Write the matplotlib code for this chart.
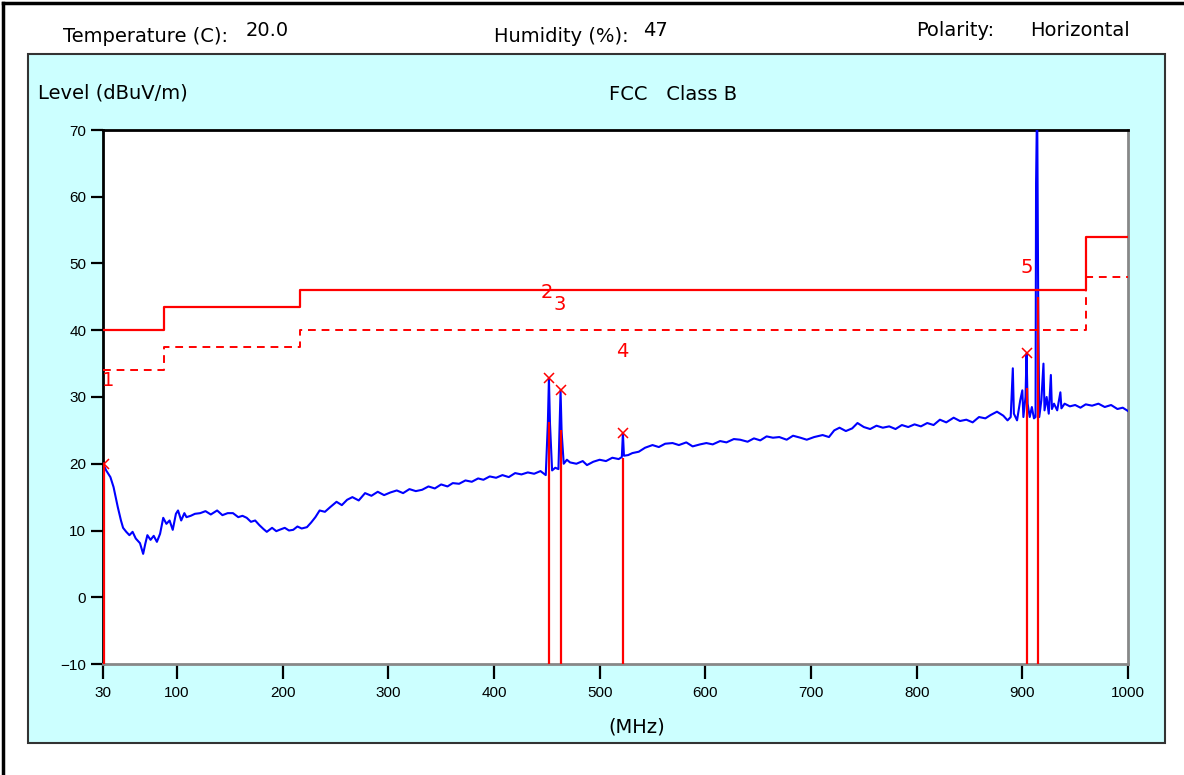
import numpy as np
import matplotlib
matplotlib.use('Agg')
import matplotlib.pyplot as plt
from matplotlib.patches import Rectangle
from matplotlib.lines import Line2D

plt.rcParams['font.family'] = ['Liberation Sans', 'DejaVu Sans']

# measured trace (MHz, dBuV/m)
freq = [30, 33, 37, 40, 44, 47, 49, 52, 55, 58, 61, 65, 68, 70, 72, 75, 78, 81, 84, 87,
        90, 93, 96, 99, 101, 104, 107, 109, 113, 117, 122, 127, 132, 138, 143, 148, 153, 158,
        162, 166, 170, 174, 178, 182, 185, 190, 194, 197, 202, 206, 210, 214, 218, 223, 227,
        231, 235, 240, 245, 251, 256, 261, 266, 272, 278, 284, 290, 296, 302, 308, 314, 320,
        326, 332, 338, 344, 350, 356, 361, 367, 373, 379, 385, 390, 396, 402, 408, 414, 420,
        426, 432, 438, 444, 449, 451, 452, 453, 455, 458, 461, 462, 463, 464, 466, 469, 472,
        478, 484, 488, 494, 500, 506, 512, 518, 521, 522, 523, 527, 531, 537, 543, 550, 556,
        562, 569, 575, 582, 588, 595, 601, 607, 614, 620, 627, 633, 640, 646, 652, 658, 664,
        670, 677, 683, 690, 696, 703, 711, 717, 722, 727, 733, 739, 744, 750, 756, 762, 768,
        774, 780, 786, 792, 798, 804, 810, 816, 822, 828, 835, 841, 847, 853, 859, 865, 870,
        876, 882, 886, 889, 891, 892, 895, 898, 900, 901, 903, 904, 905, 907, 909, 911, 912.5,
        913, 914, 915, 916, 918, 920, 921, 923, 925, 927, 928, 930, 933, 936, 937, 940, 945, 950,
        955, 960, 966, 972, 978, 984, 990, 995, 1000]
level = [20.0, 19.0, 18.0, 16.5, 13.5, 11.5, 10.4, 9.8, 9.3, 9.8, 8.8, 8.1, 6.5, 8.0, 9.3, 8.6, 9.2, 8.3, 9.5, 11.9,
         11.0, 11.5, 10.1, 12.5, 13.0, 11.5, 12.6, 12.0, 12.2, 12.5, 12.6, 12.9, 12.4, 13.0, 12.3, 12.6, 12.6, 12.0,
         12.2, 11.9, 11.3, 11.5, 10.8, 10.2, 9.8, 10.4, 9.9, 10.1, 10.4, 10.0, 10.1, 10.6, 10.3, 10.5, 11.2,
         12.0, 13.0, 12.8, 13.5, 14.3, 13.8, 14.6, 15.0, 14.5, 15.6, 15.2, 15.8, 15.3, 15.7, 16.0, 15.6, 16.2,
         15.9, 16.1, 16.6, 16.3, 16.9, 16.6, 17.1, 17.0, 17.5, 17.3, 17.8, 17.6, 18.1, 17.9, 18.3, 18.0, 18.6,
         18.4, 18.7, 18.5, 18.9, 18.3, 26.2, 32.8, 26.0, 19.0, 19.4, 19.2, 25.0, 31.0, 24.8, 20.0, 20.6, 20.2,
         20.0, 20.4, 19.8, 20.3, 20.6, 20.4, 20.9, 20.7, 21.0, 24.6, 21.2, 21.3, 21.6, 21.8, 22.4, 22.8, 22.5,
         23.0, 23.1, 22.8, 23.2, 22.6, 22.9, 23.1, 22.9, 23.4, 23.2, 23.7, 23.6, 23.3, 23.8, 23.5, 24.1, 23.9,
         24.0, 23.6, 24.2, 23.9, 23.6, 24.0, 24.3, 24.0, 25.0, 25.4, 24.9, 25.3, 26.1, 25.5, 25.2, 25.7, 25.4,
         25.6, 25.2, 25.8, 25.5, 25.9, 25.6, 26.1, 25.8, 26.6, 26.2, 26.9, 26.4, 26.6, 26.2, 27.0, 26.8, 27.3,
         27.8, 27.2, 26.5, 27.0, 34.3, 27.5, 26.5, 29.5, 31.0, 27.0, 30.0, 36.5, 29.0, 27.0, 28.5, 26.8, 27.0,
         62.0, 75.0, 45.0, 27.0, 29.5, 35.0, 28.0, 30.0, 27.5, 33.3, 28.2, 29.0, 28.0, 30.7, 28.3, 29.0, 28.6, 28.8,
         28.4, 28.9, 28.7, 29.0, 28.5, 28.8, 28.2, 28.4, 27.9]

# FCC class B limit steps
limit_freq = [30, 88, 216, 960, 1000]
limit_level = [40, 43.5, 46, 54, 54]
margin_level = [34, 37.5, 40, 48, 48]

# quasi-peak readings (red bars) and peak markers (x)
qp_freq = [31, 452, 463, 522, 904, 915]
qp_level = [20.0, 26.3, 25.0, 20.9, 31.3, 45.0]
pk_freq = [31, 452, 463, 522, 904]
pk_level = [20.0, 32.8, 31.0, 24.6, 36.6]
label_text = ['1', '2', '3', '4', '5']
label_freq = [35, 450, 462, 521, 904]
label_level = [32.5, 45.6, 43.8, 36.8, 49.4]

W, H = 1184, 775
fig = plt.figure(figsize=(W / 100, H / 100), dpi=100)
fig.patch.set_facecolor('white')

# outer frame (top and left)
fig.add_artist(Line2D([3 / W, 3 / W], [0, 1 - 3 / H], color='black', lw=2.5))
fig.add_artist(Line2D([3 / W, 1], [1 - 3 / H, 1 - 3 / H], color='black', lw=2.5))

# cyan panel
fig.add_artist(Rectangle((28 / W, 1 - 743 / H), (1165 - 28) / W, (743 - 54) / H,
                         facecolor='#ccffff', edgecolor='#333333', lw=1.5,
                         transform=fig.transFigure, zorder=0))

ax = fig.add_axes([103 / W, 1 - 664 / H, (1128 - 103) / W, (664 - 130) / H])
ax.set_facecolor('white')

ax.plot(freq, level, color='#0000ff', lw=1.5, zorder=3)
ax.step(limit_freq, limit_level, where='post', color='#ff0000', lw=1.6, zorder=4)
ax.step(limit_freq, margin_level, where='post', color='#ff0000', lw=1.4,
        linestyle=(0, (4, 3)), zorder=4)
ax.vlines(qp_freq, -10, qp_level, color='#ff0000', lw=1.6, zorder=4)
ax.plot(pk_freq, pk_level, 'x', color='#ff0000', ms=7, mew=1.1, zorder=5)
for t, fx, ly in zip(label_text, label_freq, label_level):
    ax.text(fx, ly, t, color='#ff0000', fontsize=14, ha='center', va='center',
            family='DejaVu Sans', zorder=5)

ax.set_xlim(30, 1000)
ax.set_ylim(-10, 70)
ax.set_xticks([30, 100, 200, 300, 400, 500, 600, 700, 800, 900, 1000])
ax.set_yticks(np.arange(-10, 71, 10))
ax.tick_params(axis='both', direction='out', width=1.6, color='black', labelsize=11)
ax.tick_params(axis='y', length=9, pad=3)
ax.tick_params(axis='x', length=11, pad=5)
for s in ['top', 'left']:
    ax.spines[s].set_color('black')
    ax.spines[s].set_linewidth(2)
for s in ['bottom', 'right']:
    ax.spines[s].set_color('#888888')
    ax.spines[s].set_linewidth(2)

# header texts
hdr = dict(fontsize=14, va='center', family='DejaVu Sans')
fig.text(63 / W, 1 - 36 / H, 'Temperature (C):', **hdr)
fig.text(246 / W, 1 - 30 / H, '20.0', **hdr)
fig.text(494 / W, 1 - 36 / H, 'Humidity (%):', **hdr)
fig.text(643 / W, 1 - 31 / H, '47', **hdr)
fig.text(916 / W, 1 - 30 / H, 'Polarity:', **hdr)
fig.text(1030 / W, 1 - 30 / H, 'Horizontal', **hdr)
fig.text(38 / W, 1 - 93 / H, 'Level (dBuV/m)', **hdr)
fig.text(609 / W, 1 - 94 / H, 'FCC   Class B', **hdr)
fig.text(637 / W, 1 - 727 / H, '(MHz)', ha='center', fontsize=14, va='center',
         family='DejaVu Sans')

fig.savefig('out.png', dpi=100)
